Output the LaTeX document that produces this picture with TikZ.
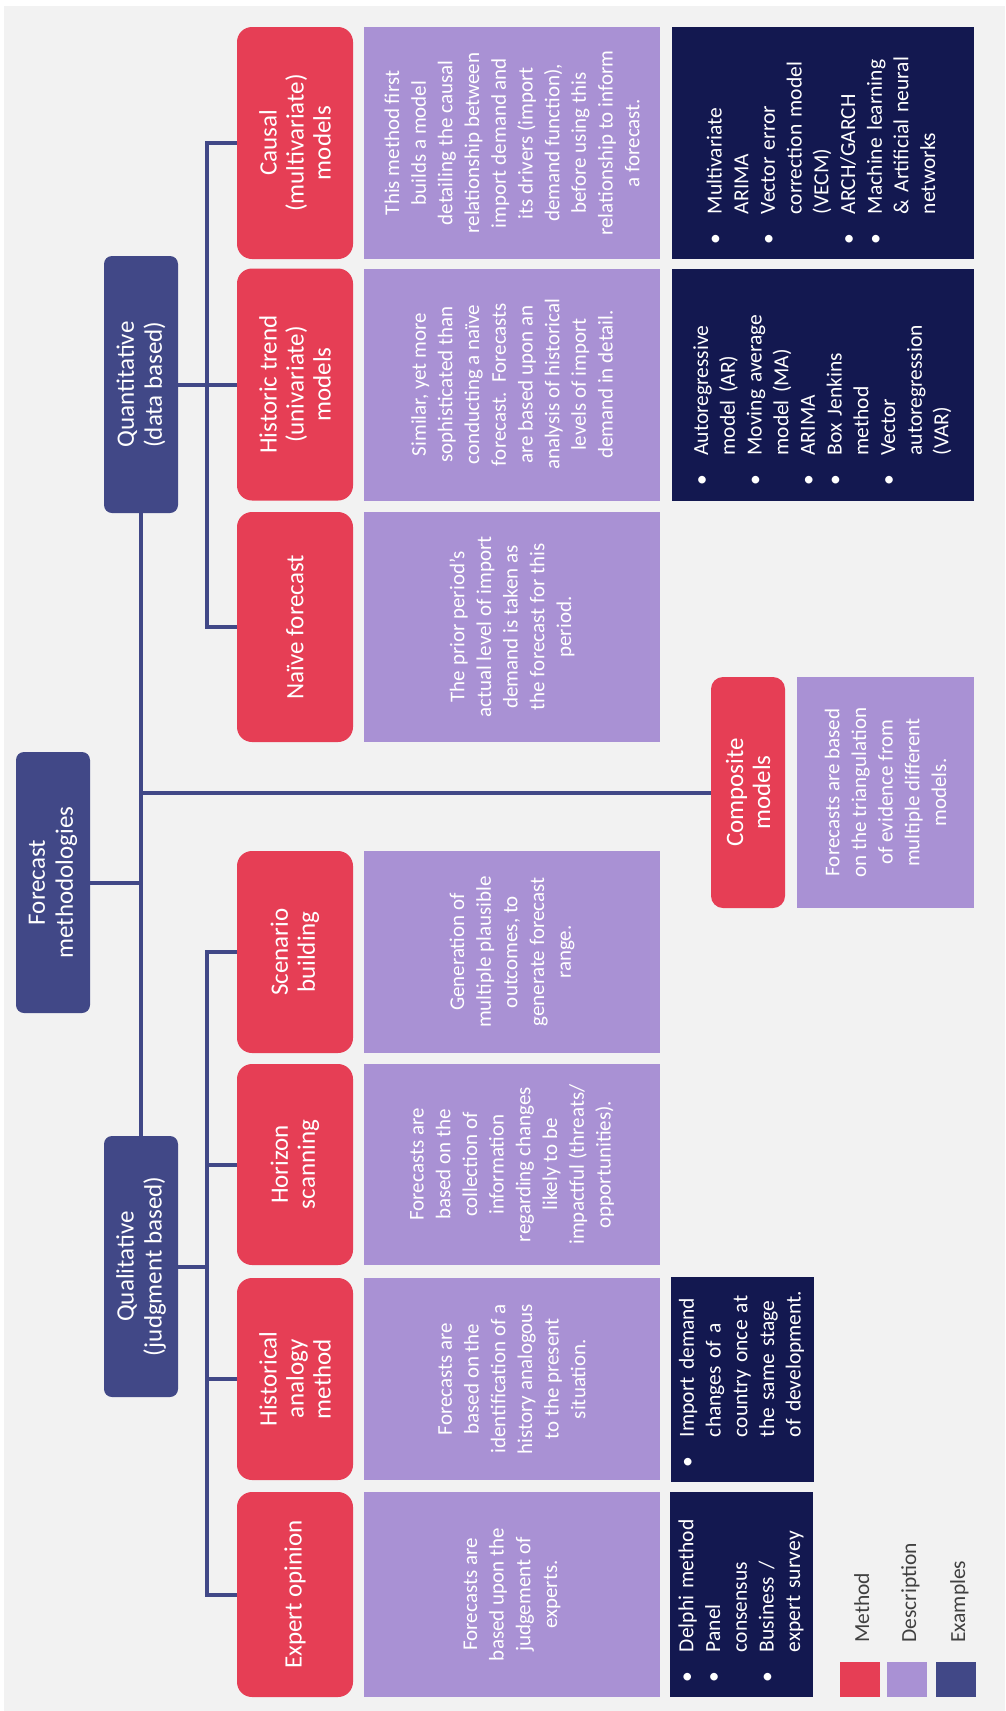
\documentclass[tikz,border=0pt]{standalone}
\usepackage{fontspec}
\setmainfont{Carlito}
\definecolor{methodred}{HTML}{E63E55}
\definecolor{descpurple}{HTML}{A991D4}
\definecolor{examplenavy}{HTML}{131850}
\definecolor{levelblue}{HTML}{414887}
\definecolor{bggray}{HTML}{F2F2F2}
\definecolor{legendtext}{HTML}{404040}
\begin{document}
\begin{tikzpicture}[x=1pt,y=-1pt,
  every node/.style={rotate=90,inner sep=0pt,text=white},
  level/.style={fill=levelblue,rounded corners=8pt,minimum height=74pt,align=center,font=\fontsize{25}{28}\selectfont},
  method/.style={fill=methodred,rounded corners=15pt,minimum height=116pt,align=center,font=\fontsize{25}{27}\selectfont},
  desc/.style={fill=descpurple,align=center,font=\fontsize{21}{26.7}\selectfont},
  examples/.style={fill=examplenavy,inner xsep=15pt,align=left,font=\fontsize{21.5}{26.7}\selectfont},
  legend/.style={text=legendtext,anchor=base west,font=\fontsize{21.5}{26}\selectfont},
  link/.style={draw=levelblue,line width=4pt}]
\useasboundingbox (0,0) rectangle (1005,1711);
\fill[bggray] (4,6) rectangle (1005,1711);

% levels
\node[level,minimum width=261pt] (root) at (53,882.5) {Forecast\\methodologies};
\node[level,minimum width=257pt] (quant) at (141,384.5) {Quantitative\\(data based)};
\node[level,minimum width=261pt] (qual) at (141,1266.5) {Qualitative\\(judgment based)};

% methods
\node[method,minimum width=232pt] (causal) at (295,143) {Causal\\(multivariate)\\models};
\node[method,minimum width=232pt] (hist) at (295,384.5) {Historic trend\\(univariate)\\models};
\node[method,minimum width=230pt] (naive) at (295,627) {Naïve forecast};
\node[method,minimum width=202pt] (scen) at (295,952) {Scenario\\building};
\node[method,minimum width=201pt] (horiz) at (295,1164.5) {Horizon\\scanning};
\node[method,minimum width=202pt] (analog) at (295,1379) {Historical\\analogy\\method};
\node[method,minimum width=205pt] (expert) at (295,1594.5) {Expert opinion};
\node[method,rounded corners=12pt,minimum width=231pt,minimum height=74pt] (comp) at (748,792.5) {Composite\\models};

% descriptions
\node[desc,minimum width=232pt,minimum height=296pt] (causaldesc) at (512,143) {This method first\\builds a model\\detailing the causal\\relationship between\\import demand and\\its drivers (import\\demand function),\\before using this\\relationship to inform\\a forecast.};
\node[desc,minimum width=232pt,minimum height=296pt] (histdesc) at (512,384.5) {Similar, yet more\\sophisticated than\\conducting a naïve\\forecast.\ \ Forecasts\\are based upon an\\analysis of historical\\levels of import\\demand in detail.};
\node[desc,minimum width=230pt,minimum height=296pt] (naivedesc) at (512,627) {The prior period’s\\actual level of import\\demand is taken as\\the forecast for this\\period.};
\node[desc,minimum width=202pt,minimum height=296pt] (scendesc) at (512,952) {Generation of\\multiple plausible\\outcomes, to\\generate forecast\\range.};
\node[desc,minimum width=201pt,minimum height=296pt] (horizdesc) at (512,1164.5) {Forecasts are\\based on the\\collection of\\information\\regarding changes\\likely to be\\impactful (threats/\\opportunities).};
\node[desc,minimum width=202pt,minimum height=296pt] (analogdesc) at (512,1379) {Forecasts are\\based on the\\identification of a\\history analogous\\to the present\\situation.};
\node[desc,minimum width=205pt,minimum height=296pt] (expertdesc) at (512,1594.5) {Forecasts are\\based upon the\\judgement of\\experts.};
\node[desc,minimum width=231pt,minimum height=177pt] (compdesc) at (885.5,792.5) {Forecasts are based\\on the triangulation\\of evidence from\\multiple different\\models.};

% examples
\node[examples,text width=202pt,minimum width=232pt,minimum height=302pt] (causalex) at (823,143) {%
  \begin{tabular}{@{}p{30pt}@{}l@{}}
  \textbullet & Multivariate\\ & ARIMA\\
  \textbullet & Vector error\\ & correction model\\ & (VECM)\\
  \textbullet & ARCH/GARCH\\
  \textbullet & Machine learning\\ & \& Artificial neural\\ & networks
  \end{tabular}};
\node[examples,text width=202pt,minimum width=232pt,minimum height=302pt] (histex) at (823,384.5) {%
  \begin{tabular}{@{}p{30pt}@{}l@{}}
  \textbullet & Autoregressive\\ & model (AR)\\
  \textbullet & Moving average\\ & model (MA)\\
  \textbullet & ARIMA\\
  \textbullet & Box Jenkins\\ & method\\
  \textbullet & Vector\\ & autoregression\\ & (VAR)
  \end{tabular}};
\node[examples,text width=175pt,minimum width=205pt,minimum height=143pt] (analogex) at (742,1379.5) {%
  \begin{tabular}{@{}p{30pt}@{}l@{}}
  \textbullet & Import demand\\ & changes of a\\ & country once at\\ & the same stage\\ & of development.
  \end{tabular}};
\node[examples,text width=175pt,minimum width=205pt,minimum height=143pt] (expertex) at (741.5,1594.5) {%
  \begin{tabular}{@{}p{30pt}@{}l@{}}
  \textbullet & Delphi method\\
  \textbullet & Panel\\ & consensus\\
  \textbullet & Business /\\ & expert survey
  \end{tabular}};

% connectors
\coordinate (qb) at (206.5,0);
\draw[link] (root.south) -- (root.south -| quant.west);
\draw[link] (quant.west) -- (qual.east);
\draw[link] (comp.north) -- (comp.north -| quant.west);
\draw[link] (quant.south) -- (hist.north);
\draw[link] (causal.north) -- (causal.north -| qb) -- (naive.north -| qb) -- (naive.north);
\draw[link] (qual.south) -- (qual.south -| qb);
\draw[link] (scen.north) -- (scen.north -| qb) -- (expert.north -| qb) -- (expert.north);
\draw[link] (horiz.north) -- (horiz.north -| qb);
\draw[link] (analog.north) -- (analog.north -| qb);

% legend
\fill[methodred] (840,1662) rectangle (880,1697);
\fill[descpurple] (887,1662) rectangle (927,1697);
\fill[levelblue] (936,1662) rectangle (976,1697);
\node[legend] (legmethod) at (869,1643) {Method};
\node[legend] (legdesc) at (916,1643) {Description};
\node[legend] (legex) at (965,1643) {Examples};
\end{tikzpicture}
\end{document}
